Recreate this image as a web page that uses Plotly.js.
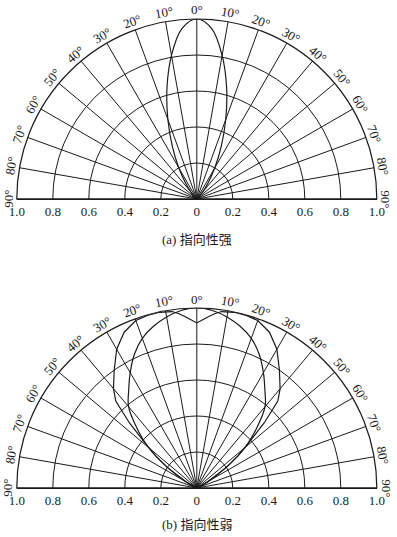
<!DOCTYPE html>
<html>
<head>
<meta charset="utf-8">
<script src="https://cdn.plot.ly/plotly-3.0.1.min.js"></script>
<style>html,body{margin:0;padding:0;background:#fff;}#chart{width:397px;height:537px;}</style>
</head>
<body>
<div id="chart"></div>
<script>
// ---- data ----
const angleTicks = [-90,-80,-70,-60,-50,-40,-30,-20,-10,0,10,20,30,40,50,60,70,80,90];
const angleLabels = ['90°','80°','70°','60°','50°','40°','30°','20°','10°','0°','10°','20°','30°','40°','50°','60°','70°','80°','90°'];
const radialTicks = [0.2,0.4,0.6,0.8,1.0];
const xTickVals = [-1,-0.8,-0.6,-0.4,-0.2,0,0.2,0.4,0.6,0.8,1];
const xTickText = ['1.0','0.8','0.6','0.4','0.2','0','0.2','0.4','0.6','0.8','1.0'];
const captions = ['(a) 指向性强','(b) 指向性弱'];

// (a) strong directivity: narrow lobe
const strongTheta = [-50,-45,-40,-35,-30,-25,-20,-15,-10,-5,0,5,10,15,20,25,30,35,40,45,50];
const strongR     = [0,0.015,0.05,0.11,0.2,0.32,0.47,0.64,0.81,0.95,1.0,0.95,0.81,0.64,0.47,0.32,0.2,0.11,0.05,0.015,0];

// (b) weak directivity: main lobe
const weakMainTheta = [-63,-60,-55,-50,-45,-40,-35,-30,-25,-20,-15,-10,-5,0,5,10,15,20,25,30,35,40,45,50,55,60,63];
const weakMainR     = [0,0.07,0.2,0.35,0.47,0.59,0.66,0.74,0.82,0.885,0.93,0.965,0.99,1.0,0.99,0.965,0.93,0.885,0.82,0.74,0.66,0.59,0.47,0.35,0.2,0.07,0];

// (b) weak directivity: wide lobe with central dip
const weakWideTheta = [-63,-60,-55,-52,-49,-46,-43,-40,-35,-30,-25,-20,-16,-12,-8,-6,-4,-2,0,2,4,6,8,12,16,20,25,30,35,40,43,46,49,52,55,60,63];
const weakWideR     = [0,0.07,0.2,0.29,0.38,0.52,0.66,0.72,0.80,0.89,0.955,0.99,0.997,0.998,0.99,0.975,0.955,0.935,0.917,0.935,0.955,0.975,0.99,0.998,0.997,0.99,0.955,0.89,0.80,0.72,0.66,0.52,0.38,0.29,0.2,0.07,0];

// ---- layout geometry ----
const W = 397, H = 537;
const cx = 196.8, R = 180;
const centersY = [199, 488];
const xDom = [(cx - R) / W, (cx + R) / W];
const yDoms = centersY.map(c => [(H - c) / H, (H - c + R) / H]);

const ink = '#1a1a1a';
const serif = 'Liberation Serif, Times New Roman, serif';

function polarCfg(dom) {
  return {
    domain: {x: xDom, y: dom},
    sector: [0, 180],
    bgcolor: 'rgba(0,0,0,0)',
    radialaxis: {range: [0, 1], tickvals: radialTicks, showticklabels: false, ticks: '',
                 showline: false, gridcolor: ink, gridwidth: 1},
    angularaxis: {rotation: 90, direction: 'clockwise', tickmode: 'array', tickvals: angleTicks,
                  showticklabels: false, ticks: '', showline: true, linecolor: ink, linewidth: 1.2,
                  gridcolor: ink, gridwidth: 1}
  };
}
function xCfg(anchor) {
  return {domain: xDom, range: [-1, 1], tickmode: 'array', tickvals: xTickVals, ticktext: xTickText,
          showgrid: false, zeroline: false, showline: true, linecolor: ink, linewidth: 1.2,
          ticks: '', tickfont: {family: serif, size: 13, color: ink}, anchor: anchor, fixedrange: true};
}
function yCfg(dom, anchor) {
  return {domain: dom, range: [0, 1], visible: false, anchor: anchor, fixedrange: true};
}

const lineStyle = {color: ink, width: 1.2};
const data = [
  {type: 'scatterpolar', subplot: 'polar', theta: strongTheta, r: strongR, mode: 'lines',
   line: Object.assign({shape: 'spline'}, lineStyle), hoverinfo: 'skip'},
  {type: 'scatterpolar', subplot: 'polar2', theta: weakMainTheta, r: weakMainR, mode: 'lines',
   line: Object.assign({shape: 'spline'}, lineStyle), hoverinfo: 'skip'},
  {type: 'scatterpolar', subplot: 'polar2', theta: weakWideTheta, r: weakWideR, mode: 'lines',
   line: Object.assign({shape: 'linear'}, lineStyle), hoverinfo: 'skip'},
  {type: 'scatter', x: [], y: [], xaxis: 'x', yaxis: 'y', hoverinfo: 'skip'},
  {type: 'scatter', x: [], y: [], xaxis: 'x2', yaxis: 'y2', hoverinfo: 'skip'}
];

const annotations = [];
const labelR = 1.05;
centersY.forEach(cy => {
  angleTicks.forEach((a, i) => {
    const rad = a * Math.PI / 180;
    annotations.push({xref: 'paper', yref: 'paper',
      x: (cx + R * labelR * Math.sin(rad)) / W,
      y: (H - cy + R * labelR * Math.cos(rad)) / H,
      text: angleLabels[i], showarrow: false, textangle: a, borderpad: 0,
      font: {family: serif, size: 13, color: ink}, xanchor: 'center', yanchor: 'middle'});
  });
});
const capY = [240, 524];
captions.forEach((t, i) => {
  annotations.push({xref: 'paper', yref: 'paper', x: cx / W, y: (H - capY[i]) / H, text: t,
    showarrow: false, xanchor: 'center', yanchor: 'middle',
    font: {family: 'Liberation Serif, Noto Sans CJK SC, serif', size: 13, color: ink}});
});

const layout = {
  width: W, height: H, margin: {l: 0, r: 0, t: 0, b: 0},
  paper_bgcolor: '#fff', plot_bgcolor: 'rgba(0,0,0,0)', showlegend: false,
  polar: polarCfg(yDoms[0]), polar2: polarCfg(yDoms[1]),
  xaxis: xCfg('y'), yaxis: yCfg(yDoms[0], 'x'),
  xaxis2: xCfg('y2'), yaxis2: yCfg(yDoms[1], 'x2'),
  annotations: annotations
};

Plotly.newPlot('chart', data, layout, {staticPlot: true, displayModeBar: false});
</script>
</body>
</html>
